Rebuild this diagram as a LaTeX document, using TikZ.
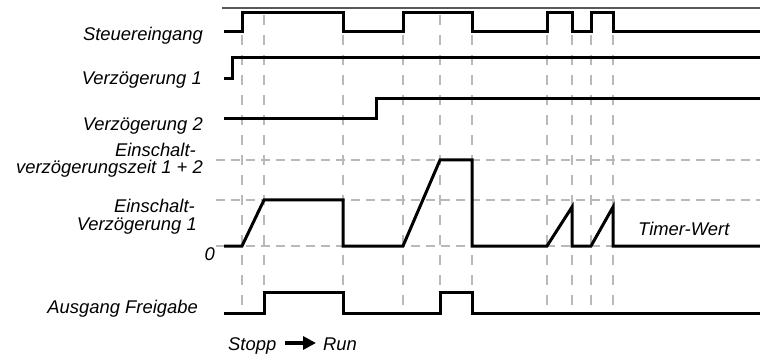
\documentclass[tikz,border=0pt]{standalone}
\usepackage{fontspec}
\setmainfont{Liberation Sans}
\usetikzlibrary{arrows.meta}
\begin{document}
\begin{tikzpicture}[x=1pt,y=-1pt,
  sig/.style={line width=3pt, line join=miter, black},
  vgrid/.style={line width=1.5pt, gray!55, dash pattern=on 10pt off 10pt},
  hgrid/.style={line width=1.5pt, gray!55, dash pattern=on 9pt off 6pt},
  lbl/.style={font=\fontsize{18.4}{21}\selectfont\itshape, inner sep=0pt, anchor=base east},
  lblw/.style={lbl, anchor=base west},
  bigarrow/.style={line width=4.5pt, -{Triangle[length=13pt,width=13pt]}}]
\useasboundingbox (0,0) rectangle (760,358);
% grid
\foreach \x in {242,264,343,403,440,472,547,572,591,613}
  \draw[vgrid] (\x,15) -- (\x,310);
\foreach \y in {160,200,246}
  \draw[hgrid] (216,\y) -- (760,\y);
\draw[gray!70!black, line width=1.2pt] (222,8) -- (760,8);
% signals
\draw[sig] (224,32) -| (242,13) -| (343,32) -| (403,13) -| (472,32) -| (547,13) -| (572,32) -| (591,13) -| (613,32) -- (760,32);
\draw[sig] (224,79) -| (232,58) -- (760,58);
\draw[sig] (224,119) -| (376,99) -- (760,99);
\draw[sig] (224,246) -- (242,246) -- (264,200) -- (343,200) -- (343,246) -- (403,246) -- (440,160) -- (472,160) -- (472,246) -- (547,246) -- (572,207) -- (572,246) -- (591,246) -- (613,207) -- (613,246) -- (760,246);
\draw[sig] (224,313) -| (264,292) -| (343,313) -| (440,292) -| (472,313) -- (760,313);
% labels
\node[lbl] (steuer) at (203,41) {Steuereingang};
\node[lbl] (verz1) at (202,85) {Verzögerung 1};
\node[lbl] (verz2) at (203,131) {Verzögerung 2};
\node[lbl] (ezA) at (196,157) {Einschalt-};
\node[lbl] (ezB) at (203,174) {verzögerungszeit 1 + 2};
\node[lbl] (evA) at (195,212) {Einschalt-};
\node[lbl] (evB) at (197,230) {Verzögerung 1};
\node[lbl] (null) at (215,260) {0};
\node[lbl] (ausg) at (198,313) {Ausgang Freigabe};
\node[lblw] (timer) at (638,236) {Timer-Wert};
\node[lblw] (stopp) at (228,350) {Stopp};
\node[lblw] (run) at (323,350) {Run};
\draw[bigarrow] ([shift={(9,-7)}]stopp.base east) -- ([shift={(-7,-7)}]run.base west);
\end{tikzpicture}
\end{document}
